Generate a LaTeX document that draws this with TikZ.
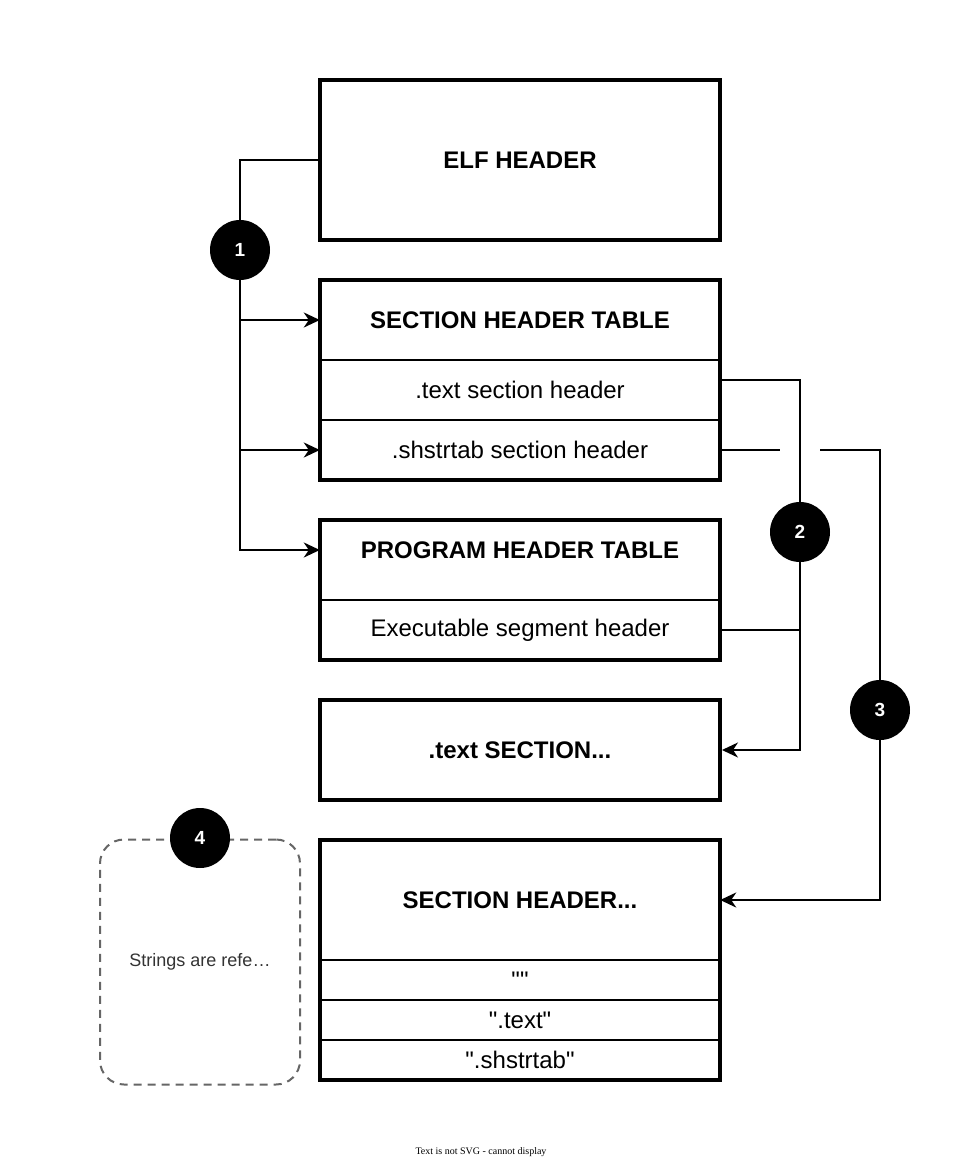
\documentclass[tikz,border=0pt]{standalone}
\usepackage{fontspec}
\setmainfont[Ligatures=TeXOff]{Liberation Sans}
\newfontfamily\notefont{Liberation Serif}
\usetikzlibrary{arrows.meta}
\definecolor{notegray}{RGB}{102,102,102}
\definecolor{notetext}{RGB}{51,51,51}
\begin{document}
\begin{tikzpicture}[x=1pt, y=-1pt, >={Stealth[length=16pt, width=15pt, inset=5pt]},
    row/.style={minimum width=400pt, inner sep=0pt, font=\fontsize{24}{28}\selectfont},
    head/.style={row, font=\fontsize{24}{28}\selectfont\bfseries},
    frame/.style={draw, line width=4pt},
    divider/.style={line width=2pt},
    wire/.style={line width=2pt},
    badge/.style={circle, fill=black, text=white, minimum size=60pt, inner sep=0pt, font=\fontsize{19}{21}\selectfont\bfseries},
    note/.style={draw=notegray, line width=2pt, dash pattern=on 8pt off 6pt, rounded corners=24pt, minimum width=200pt, minimum height=245pt, text=notetext, font=\fontsize{18}{22}\selectfont}]
    \useasboundingbox (0, 0) rectangle (960, 1160);
    %Nodes
    \node[head, frame, minimum height=160pt] at (520, 160) (elf) {ELF HEADER};
    \node[head, minimum height=80pt] at (520, 320) (shttitle) {SECTION HEADER TABLE};
    \node[row, minimum height=60pt] at (520, 390) (shttext) {.text section header};
    \node[row, minimum height=60pt] at (520, 450) (shtshstr) {.shstrtab section header};
    \node[head, minimum height=60pt] at (520, 550) (phttitle) {PROGRAM HEADER TABLE};
    \node[row, minimum height=60pt] at (520, 630) (phtexec) {Executable segment header};
    \node[head, frame, minimum height=100pt] at (520, 750) (textsec) {.text SECTION...};
    \node[head, minimum height=120pt] at (520, 900) (shdr) {SECTION HEADER...};
    \node[row, minimum height=40pt] at (520, 980) (strnull) {""};
    \node[row, minimum height=40pt] at (520, 1020) (strtext) {".text"};
    \node[row, minimum height=40pt] at (520, 1060) (strshstr) {".shstrtab"};
    \node[note] at (200, 962) (strnote) {Strings are refe…};
    \node[font=\notefont\fontsize{10}{12}\selectfont] at (481, 1152) (warn) {Text is not SVG - cannot display};

    %Frames
    \draw[frame] (shttitle.north west) rectangle (shtshstr.south east);
    \draw[divider] (shttext.north west) -- (shttext.north east);
    \draw[divider] (shtshstr.north west) -- (shtshstr.north east);
    \draw[frame] (phttitle.north west) rectangle (phtexec.south east);
    \draw[divider] (phtexec.north west) -- (phtexec.north east);
    \draw[frame] (shdr.north west) rectangle (strshstr.south east);
    \draw[divider] (strnull.north west) -- (strnull.north east);
    \draw[divider] (strtext.north west) -- (strtext.north east);
    \draw[divider] (strshstr.north west) -- (strshstr.north east);

    %Badges
    \node[badge] at (240, 250) (one) {1};
    \node[badge] at (800, 532) (two) {2};
    \node[badge] at (880, 710) (three) {3};
    \node[badge] at (200, 838) (four) {4};
    \coordinate (jumpl) at (780, 450);
    \coordinate (jumpr) at (820, 450);

    %Lines
    \draw[wire] (elf.west) -| (one.north);
    \draw[wire, ->] (one.south) |- (phttitle.west);
    \draw[wire, ->] (one.south |- shttitle.west) -- (shttitle.west);
    \draw[wire, ->] (one.south |- shtshstr.west) -- (shtshstr.west);
    \draw[wire] ([yshift=10pt]shttext.east) -| (two.north);
    \draw[wire, ->] (two.south) |- (textsec.east);
    \draw[wire] (phtexec.east) -- (phtexec.east -| two.south);
    \draw[wire] (shtshstr.east) -- (jumpl);
    \draw[wire] (jumpr) -| (three.north);
    \draw[wire, ->] (three.south) |- (shdr.east);
\end{tikzpicture}
\end{document}
